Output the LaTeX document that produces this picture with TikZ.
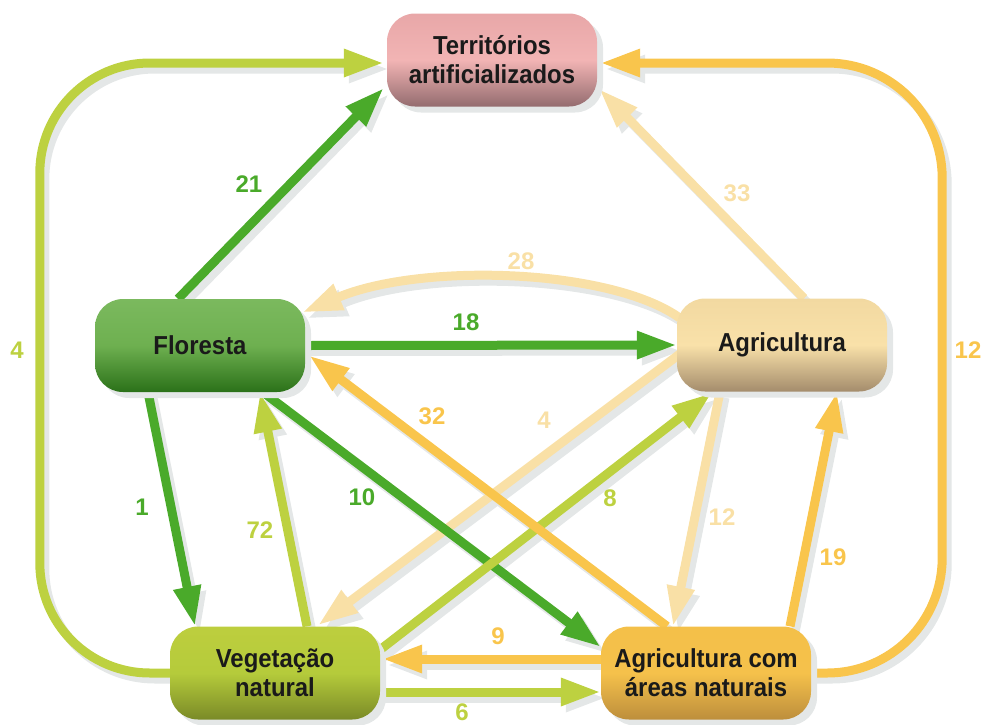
\documentclass[tikz,border=0pt]{standalone}
\usepackage{fontspec}
\setmainfont{Liberation Sans}[FakeStretch=0.92]
\newfontfamily\numfont{Liberation Sans}
\usetikzlibrary{arrows.meta,calc,shadows}

\pgfdeclarelayer{shadelayer}
\pgfdeclarelayer{linelayer}
\pgfsetlayers{shadelayer,linelayer,main}

\definecolor{flocol}{HTML}{4AAA2A}
\definecolor{vegcol}{HTML}{BDD140}
\definecolor{agrcol}{HTML}{F9E0A6}
\definecolor{agncol}{HTML}{F9C54C}
\definecolor{shadowgrey}{HTML}{E4E7E7}
\definecolor{txt}{HTML}{1A1A1A}
% box gradients
\definecolor{terrtop}{HTML}{E8A7A8}
\definecolor{terrmid}{HTML}{F2B4B4}
\definecolor{terrbot}{HTML}{946C6F}
\definecolor{flotop}{HTML}{7BB95E}
\definecolor{flomid}{HTML}{6EB050}
\definecolor{flobot}{HTML}{2B7119}
\definecolor{agrtop}{HTML}{F2D9A1}
\definecolor{agrmid}{HTML}{F9E1A9}
\definecolor{agrbot}{HTML}{A48C6C}
\definecolor{vegtop}{HTML}{BDCE3E}
\definecolor{vegmid}{HTML}{B5CB3B}
\definecolor{vegbot}{HTML}{7A8A27}
\definecolor{agntop}{HTML}{F4C049}
\definecolor{agnmid}{HTML}{F5C14B}
\definecolor{agnbot}{HTML}{BD8E3C}

% flow arrow with its grey shadow: #1 options, #2 start, #3 way, #4 end
\newcommand{\flowline}[4]{%
    \begin{pgfonlayer}{shadelayer}\draw[flow, #1, shadowgrey] ($#2+(5,6)$) #3 ($#4+(5,6)$);\end{pgfonlayer}
    \begin{pgfonlayer}{linelayer}\draw[flow, #1] ($#2$) #3 ($#4$);\end{pgfonlayer}}

\begin{document}
\begin{tikzpicture}[x=1pt,y=-1pt,
    box/.style={rectangle, rounded corners=28pt, minimum width=210pt, minimum height=93pt,
        inner sep=0pt, align=center, text=txt, font={\fontsize{26}{29}\selectfont\bfseries},
        general shadow={fill=shadowgrey, shadow xshift=6pt, shadow yshift=-6pt}},
    flow/.style={line width=9pt, -{Triangle[length=40pt,width=26pt]}},
    num/.style={font={\numfont\bfseries\fontsize{24}{24}\selectfont}}]
    \useasboundingbox (0,0) rectangle (983,724);

    \node[box, top color=terrtop, bottom color=terrbot, middle color=terrmid] (terr) at (492,60) {Territórios\\artificializados};
    \node[box, top color=flotop, bottom color=flobot, middle color=flomid] (flo) at (200,345.5) {Floresta};
    \node[box, top color=agrtop, bottom color=agrbot, middle color=agrmid] (agr) at (782,345) {Agricultura};
    \node[box, top color=vegtop, bottom color=vegbot, middle color=vegmid] (veg) at (275,673) {Vegetação\\natural};
    \node[box, top color=agntop, bottom color=agnbot, middle color=agnmid] (agn) at (706,673) {Agricultura com\\áreas naturais};

    % agricultura
    \flowline{agrcol}{(agr.north)+(22,0)}{--}{(terr.east)+(2,29)}
    \flowline{agrcol}{(agr.west)+(3,-27)}{.. controls +(-70,-50) and +(118,-50) ..}{(flo.east)+(-3,-33)}
    \flowline{agrcol}{(agr.west)+(3,9)}{--}{(veg.north)+(43,-1)}
    \flowline{agrcol}{(agr.south)+(-62,0)}{--}{(agn.north)+(-33,0)}
    % floresta
    \flowline{flocol}{(flo.north)+(-22,0)}{--}{(terr.west)+(-3,28)}
    \flowline{flocol}{(flo.east)}{--}{(agr.west)}
    \flowline{flocol}{(flo.south)+(63,0)}{--}{(agn.west)+(0,-26)}
    \flowline{flocol}{(flo.south)+(-52,0)}{--}{(veg.north)+(-80,0)}
    % vegetacao natural
    \flowline{vegcol, rounded corners=110pt}{(veg.west)}{-- ++(-130,0) |-}{(terr.west)+(-3,3)}
    \flowline{vegcol}{(veg.east)+(-3,-21)}{--}{(agr.south)+(-70,1)}
    \flowline{vegcol}{(veg.north)+(32,0)}{--}{(flo.south)+(60,0)}
    \flowline{vegcol}{(veg.east)+(0,19)}{--}{(agn.west)+(0,19)}
    % agricultura com areas naturais
    \flowline{agncol, rounded corners=115pt}{(agn.east)}{-- ++(131,0) |-}{(terr.east)+(3,3)}
    \flowline{agncol}{(agn.north)+(-39,0)}{--}{(flo.east)+(4,10)}
    \flowline{agncol}{(agn.north)+(84,0)}{--}{(agr.south)+(55,0)}
    \flowline{agncol}{(agn.west)+(0,-14)}{--}{(veg.east)+(2,-14)}

    % values
    \node[num, text=flocol] (l21) at (249,184) {21};
    \node[num, text=agrcol] (l33) at (737,193) {33};
    \node[num, text=agrcol] (l28) at (521,261) {28};
    \node[num, text=flocol] (l18) at (466,322) {18};
    \node[num, text=agncol] (l32) at (432,416) {32};
    \node[num, text=agrcol] (l4b) at (544,420) {4};
    \node[num, text=vegcol] (l8) at (610,498) {8};
    \node[num, text=flocol] (l10) at (362,497) {10};
    \node[num, text=flocol] (l1) at (142,507) {1};
    \node[num, text=vegcol] (l72) at (260,530) {72};
    \node[num, text=agrcol] (l12b) at (722,517) {12};
    \node[num, text=agncol] (l19) at (833,557) {19};
    \node[num, text=agncol] (l9) at (498,636) {9};
    \node[num, text=vegcol] (l6) at (462,712) {6};
    \node[num, text=vegcol] (l4) at (17,350) {4};
    \node[num, text=agncol] (l12) at (968,350) {12};
\end{tikzpicture}
\end{document}
